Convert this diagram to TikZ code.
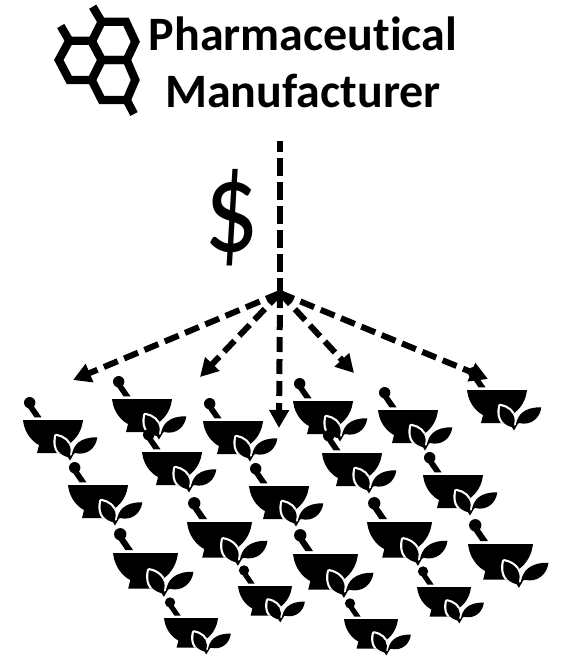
\documentclass[tikz,border=0pt]{standalone}
\usepackage{fontspec}
\setmainfont[Ligatures={NoCommon,NoRequired,NoContextual,NoDiscretionary}]{Carlito}
\usetikzlibrary{arrows.meta}
\tikzset{
  x=1pt,y=-1pt,
  hexline/.style={line width=8.3pt,line join=miter,line cap=butt,black},
  longdash/.style={line width=6pt,black,dash pattern=on 18pt off 6pt},
  arrowdash/.style={line width=6pt,black,dash pattern=on 15pt off 7pt,-{Triangle[length=18pt,width=19pt]}},
  mortar/.pic={
    \def\bowlpath{(0,0) -- (60,0) -- (59.5,3) .. controls (58,12) and (52,21) .. (44,25) -- (46,33) -- (14,33) -- (16,25) .. controls (8,21) and (2,12) .. (0.5,3) -- cycle}
    \def\leafL{(33.3,16) .. controls (40,17) and (47,22) .. (47.7,30) -- (46.7,37.5) .. controls (38,36) and (30,30) .. (33.3,16) -- cycle}
    \def\leafR{(48.7,36) .. controls (50,25) and (57,17) .. (74.3,17.3) .. controls (73,28) and (64,36) .. (52,33) -- cycle}
    \fill[black] (6.7,-17.3) circle (5.7);
    \fill[black] (4.5,-13) -- (10,-15) -- (18.5,-2.7) -- (11.5,-2.7) -- cycle;
    \fill[black] \bowlpath;
    \begin{scope}
      \clip \bowlpath;
      \draw[white,line width=4.4pt,line join=round] \leafL;
      \draw[white,line width=4.4pt,line join=round] \leafR;
    \end{scope}
    \fill[black] \leafL;
    \fill[black] \leafR;
    \fill[black] (44.5,36.5) -- (47,40.5) -- (50.5,34.5) -- cycle;
  }
}
\begin{document}
\begin{tikzpicture}
\useasboundingbox (0,0) rectangle (570,656);
% molecule
\draw[hexline] (101.7,21.7) -- (126,21.7) -- (135.3,41.7) -- (126.7,60) -- (101.7,60) -- (91.7,41.7) -- cycle;
\draw[hexline] (69.3,40.7) -- (91.7,40.7) -- (101.7,60) -- (91.7,80) -- (69.3,80) -- (58.8,60) -- cycle;
\draw[hexline] (101.7,60) -- (126.7,60) -- (135.3,80) -- (126.7,100) -- (101.7,100) -- (91.7,80) -- cycle;
\draw[hexline] (101.7,21.7) -- (92.7,6.7);
\draw[hexline] (69.3,40.7) -- (60.7,26);
\draw[hexline] (126.7,100) -- (134,114);
% title
\node[font=\fontsize{48}{57}\selectfont\bfseries,align=center,inner sep=0pt] (title) at (303,62.5) {Pharmaceutical\\Manufacturer};
% dollar
\node[font=\fontsize{130}{130}\selectfont,inner sep=0pt,xscale=.83,transform shape] (dollar) at (232,218) {\$};
% connector ends
\coordinate (top) at (280,141);
\coordinate (hub) at (280,296);
\coordinate (hubb) at (280,293);
\coordinate (t1) at (73,380);
\coordinate (t2) at (200,377);
\coordinate (t3) at (279,428);
\coordinate (t4) at (354,373);
\coordinate (t5) at (488,379);
% mortars
\foreach \px/\py/\s in {23/420/1, 112/399/1, 203/421/1, 293/401/1, 378/410/1, 467/390/1,
  142/452/1, 322/453/1, 423/475/1, 68/485/1, 249/486/1,
  187/522/1.083, 367/522/1.083, 468/544/1.083, 113/553/1.083, 293/554/1.083,
  238/586/.9, 417/587/.9, 164/618/.9, 344/619/.9}
  \pic[scale=\s] at (\px,\py) {mortar};
% connectors
\draw[longdash] (hub) -- (top);
\draw[arrowdash] (hubb) -- (t1);
\draw[arrowdash] (hubb) -- (t2);
\draw[arrowdash] (hubb) -- (t3);
\draw[arrowdash] (hubb) -- (t4);
\draw[arrowdash] (hubb) -- (t5);
\end{tikzpicture}
\end{document}
